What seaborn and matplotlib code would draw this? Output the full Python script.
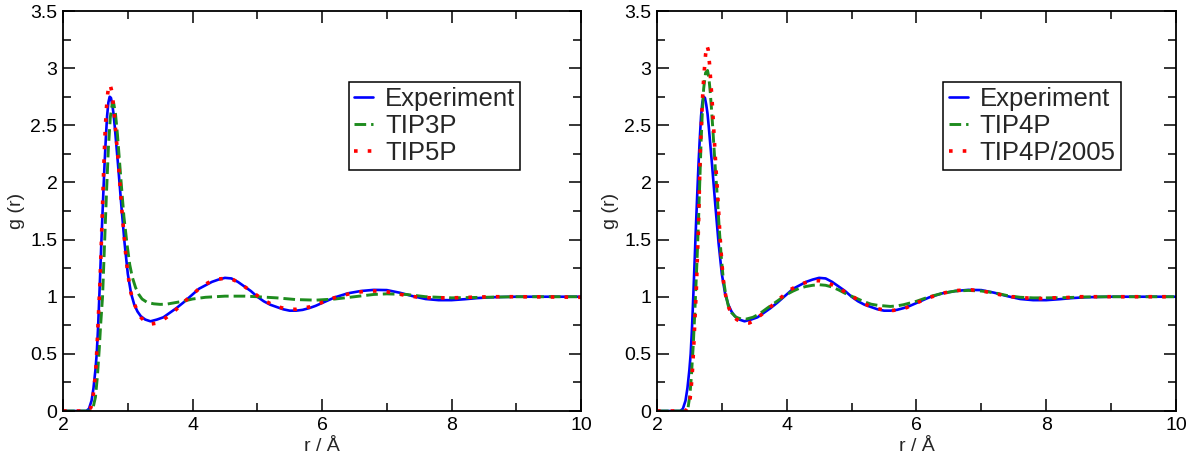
import matplotlib
matplotlib.use("Agg")
import matplotlib.pyplot as plt
import seaborn as sns

# radial distribution functions of water

r_exp = [2.0, 2.2, 2.36, 2.40, 2.44, 2.47, 2.50, 2.52, 2.54, 2.56, 2.58, 2.60, 2.62, 2.64, 2.66, 2.68, 2.70, 2.72,
         2.74, 2.76, 2.78, 2.80, 2.85, 2.90, 2.95, 3.00, 3.05, 3.10, 3.15, 3.20, 3.27, 3.35, 3.45, 3.55, 3.65,
         3.75, 3.86, 4.0, 4.1, 4.2, 4.3, 4.4, 4.5, 4.6, 4.7, 4.8, 4.9, 5.0, 5.1, 5.2, 5.3, 5.4, 5.5, 5.6, 5.7,
         5.8, 5.9, 6.0, 6.2, 6.4, 6.6, 6.8, 7.0, 7.2, 7.4, 7.6, 7.8, 8.0, 8.2, 8.4, 8.6, 8.8, 9.0, 9.5, 10.0]
g_exp = [0.0, 0.0, 0.0, 0.02, 0.09, 0.2, 0.36, 0.5, 0.72, 1.0, 1.3, 1.6, 1.88, 2.15, 2.38, 2.58, 2.7, 2.75,
         2.74, 2.68, 2.6, 2.48, 2.15, 1.8, 1.47, 1.2, 1.03, 0.93, 0.87, 0.83, 0.8, 0.785, 0.8, 0.82, 0.86,
         0.9, 0.95, 1.02, 1.07, 1.1, 1.13, 1.15, 1.165, 1.16, 1.13, 1.09, 1.05, 1.0, 0.96, 0.93, 0.91, 0.89,
         0.878, 0.878, 0.885, 0.9, 0.92, 0.945, 0.995, 1.03, 1.05, 1.06, 1.058, 1.035, 1.005, 0.98, 0.97,
         0.97, 0.978, 0.988, 0.995, 0.998, 1.0, 1.0, 1.0]

r_tip3p = [2.0, 2.2, 2.42, 2.46, 2.50, 2.53, 2.56, 2.58, 2.61, 2.64, 2.67, 2.70, 2.73, 2.76, 2.78, 2.81, 2.84,
           2.87, 2.90, 2.94, 2.99, 3.03, 3.07, 3.12, 3.17, 3.22, 3.30, 3.40, 3.50, 3.60, 3.70, 3.85, 4.0,
           4.2, 4.5, 4.8, 5.0, 5.3, 5.6, 5.9, 6.2, 6.5, 6.8, 7.0, 7.3, 7.6, 8.0, 8.5, 9.0, 10.0]
g_tip3p = [0.0, 0.0, 0.0, 0.02, 0.12, 0.3, 0.55, 0.75, 1.0, 1.45, 1.9, 2.3, 2.57, 2.69, 2.7, 2.6, 2.42,
           2.2, 1.98, 1.7, 1.45, 1.28, 1.17, 1.08, 1.02, 0.98, 0.95, 0.938, 0.933, 0.935, 0.945, 0.96, 0.98,
           0.995, 1.005, 1.005, 1.0, 0.99, 0.975, 0.97, 0.98, 1.0, 1.02, 1.025, 1.02, 1.0, 0.99, 0.995, 1.0, 1.0]

r_tip5p = [2.0, 2.2, 2.38, 2.43, 2.46, 2.49, 2.51, 2.53, 2.55, 2.57, 2.59, 2.61, 2.63, 2.65, 2.67, 2.69, 2.71,
           2.73, 2.76, 2.79, 2.82, 2.85, 2.88, 2.91, 2.94, 2.97, 3.0, 3.05, 3.1, 3.15, 3.2, 3.27, 3.35, 3.45,
           3.55, 3.65, 3.75, 3.86, 4.0, 4.1, 4.2, 4.3, 4.4, 4.5, 4.6, 4.7, 4.8, 4.9, 5.0, 5.1, 5.2, 5.3, 5.4,
           5.5, 5.6, 5.7, 5.8, 5.9, 6.0, 6.1, 6.3, 6.5, 6.7, 6.9, 7.1, 7.3, 7.5, 7.7, 8.0, 8.3, 8.6, 9.0,
           9.5, 10.0]
g_tip5p = [0.0, 0.0, 0.0, 0.03, 0.11, 0.27, 0.4, 0.63, 0.88, 1.12, 1.45, 1.8, 2.15, 2.45, 2.65, 2.78, 2.86,
           2.85, 2.78, 2.6, 2.4, 2.2, 1.97, 1.75, 1.55, 1.36, 1.2, 1.03, 0.94, 0.87, 0.82, 0.78, 0.76, 0.77,
           0.8, 0.84, 0.89, 0.95, 1.02, 1.07, 1.11, 1.14, 1.155, 1.16, 1.155, 1.13, 1.09, 1.05, 1.01, 0.97,
           0.94, 0.915, 0.9, 0.89, 0.89, 0.9, 0.91, 0.93, 0.95, 0.975, 1.01, 1.035, 1.05, 1.05, 1.035, 1.01,
           0.995, 0.99, 0.99, 0.995, 1.0, 1.0, 0.998, 0.995]

r_tip4p = [2.0, 2.2, 2.44, 2.48, 2.51, 2.53, 2.56, 2.58, 2.60, 2.62, 2.64, 2.66, 2.68, 2.70, 2.72, 2.75, 2.78,
           2.80, 2.82, 2.84, 2.86, 2.88, 2.90, 2.93, 2.96, 2.99, 3.02, 3.06, 3.10, 3.15, 3.22, 3.30, 3.38,
           3.48, 3.58, 3.7, 3.8, 3.9, 4.0, 4.1, 4.2, 4.3, 4.4, 4.5, 4.6, 4.7, 4.8, 4.9, 5.0, 5.1, 5.2, 5.3,
           5.4, 5.5, 5.6, 5.7, 5.8, 5.9, 6.0, 6.2, 6.4, 6.6, 6.8, 7.0, 7.2, 7.4, 7.6, 7.8, 8.0, 8.3, 8.6,
           9.0, 10.0]
g_tip4p = [0.0, 0.0, 0.0, 0.03, 0.15, 0.3, 0.58, 0.82, 1.08, 1.35, 1.65, 2.0, 2.35, 2.62, 2.82, 2.96, 2.98,
           2.92, 2.8, 2.65, 2.48, 2.3, 2.12, 1.88, 1.6, 1.36, 1.17, 1.02, 0.92, 0.86, 0.82, 0.805, 0.805,
           0.82, 0.85, 0.9, 0.94, 0.98, 1.02, 1.05, 1.075, 1.09, 1.1, 1.105, 1.1, 1.085, 1.06, 1.03, 1.005,
           0.98, 0.955, 0.935, 0.925, 0.92, 0.915, 0.92, 0.93, 0.945, 0.96, 1.0, 1.03, 1.05, 1.055, 1.05,
           1.035, 1.01, 0.995, 0.99, 0.99, 0.992, 0.998, 1.0, 1.0]

r_tip4p2005 = [2.0, 2.2, 2.44, 2.48, 2.51, 2.53, 2.55, 2.57, 2.59, 2.61, 2.62, 2.64, 2.65, 2.66, 2.67, 2.69,
               2.71, 2.73, 2.75, 2.77, 2.79, 2.81, 2.83, 2.85, 2.87, 2.89, 2.91, 2.93, 2.95, 2.97, 3.0, 3.03,
               3.07, 3.11, 3.16, 3.23, 3.32, 3.42, 3.5, 3.58, 3.67, 3.75, 3.85, 3.95, 4.05, 4.15, 4.27, 4.4,
               4.5, 4.6, 4.7, 4.8, 4.9, 5.0, 5.1, 5.25, 5.4, 5.5, 5.64, 5.75, 5.85, 6.0, 6.12, 6.24, 6.44,
               6.64, 6.85, 7.06, 7.27, 7.47, 7.68, 7.89, 8.1, 8.3, 8.5, 9.0, 10.0]
g_tip4p2005 = [0.0, 0.0, 0.0, 0.03, 0.1, 0.22, 0.38, 0.6, 0.86, 1.1, 1.3, 1.6, 1.85, 2.08, 2.32, 2.57, 2.82,
               2.98, 3.12, 3.2, 3.16, 3.04, 2.88, 2.72, 2.52, 2.32, 2.12, 1.95, 1.76, 1.55, 1.3, 1.1, 0.98,
               0.9, 0.84, 0.8, 0.775, 0.77, 0.79, 0.83, 0.87, 0.91, 0.965, 1.01, 1.06, 1.09, 1.12, 1.14, 1.14,
               1.13, 1.105, 1.08, 1.04, 1.01, 0.97, 0.925, 0.895, 0.885, 0.88, 0.89, 0.905, 0.945, 0.975, 1.0,
               1.035, 1.055, 1.06, 1.045, 1.02, 1.0, 0.99, 0.983, 0.99, 0.992, 1.0, 1.0, 1.0]

x_ticks = [2, 4, 6, 8, 10]
x_tick_labels = ["2", "4", "6", "8", "10"]
y_ticks = [0, 0.5, 1, 1.5, 2, 2.5, 3, 3.5]
y_tick_labels = ["0", "0.5", "1", "1.5", "2", "2.5", "3", "3.5"]

sns.set_style("ticks")
plt.rcParams["font.family"] = ["Liberation Sans", "DejaVu Sans"]

fig = plt.figure(figsize=(12.01, 4.63), dpi=100)
ax1 = fig.add_axes([0.0525, 0.1123, 0.4313, 0.8639])
ax2 = fig.add_axes([0.5470, 0.1123, 0.4321, 0.8639])

blue = "#0000ff"
green = "#1e8c1e"
red = "#ff0000"

panels = [
    (ax1, r_tip3p, g_tip3p, "TIP3P", r_tip5p, g_tip5p, "TIP5P"),
    (ax2, r_tip4p, g_tip4p, "TIP4P", r_tip4p2005, g_tip4p2005, "TIP4P/2005"),
]

for ax, r1, g1, lab1, r2, g2, lab2 in panels:
    sns.lineplot(x=r_exp, y=g_exp, ax=ax, color=blue, linewidth=1.9, label="Experiment")
    sns.lineplot(x=r1, y=g1, ax=ax, color=green, linewidth=2.1, linestyle=(0, (4.0, 1.7)), label=lab1)
    sns.lineplot(x=r2, y=g2, ax=ax, color=red, linewidth=2.6, linestyle=(0, (1, 2.8)), label=lab2)

    ax.set_xlim(2, 10)
    ax.set_ylim(0, 3.5)
    ax.set_xticks(x_ticks)
    ax.set_xticklabels(x_tick_labels)
    ax.set_yticks(y_ticks)
    ax.set_yticklabels(y_tick_labels)
    ax.set_xticks([3, 5, 7, 9], minor=True)
    ax.set_yticks([0.25, 0.75, 1.25, 1.75, 2.25, 2.75, 3.25], minor=True)
    ax.tick_params(which="both", direction="in", top=True, right=True, width=1.1, color="black",
                   labelsize=14, labelcolor="black")
    ax.tick_params(which="major", length=8.6, pad=4)
    ax.tick_params(which="minor", length=5.5)
    for s in ax.spines.values():
        s.set_linewidth(1.3)
        s.set_color("black")
    ax.set_xlabel("r / Å", fontsize=14, labelpad=3)
    ax.set_ylabel("g (r)", fontsize=14, labelpad=4)

    leg = ax.legend(loc="upper left", bbox_to_anchor=(0.552, 0.8225), fontsize=18.5, frameon=True,
                    fancybox=False, framealpha=1, edgecolor="black", borderpad=0.2, labelspacing=0.12,
                    handlelength=0.75, handletextpad=0.45, borderaxespad=0)
    leg.get_frame().set_linewidth(1.1)

plt.savefig("out.png", dpi=100)
